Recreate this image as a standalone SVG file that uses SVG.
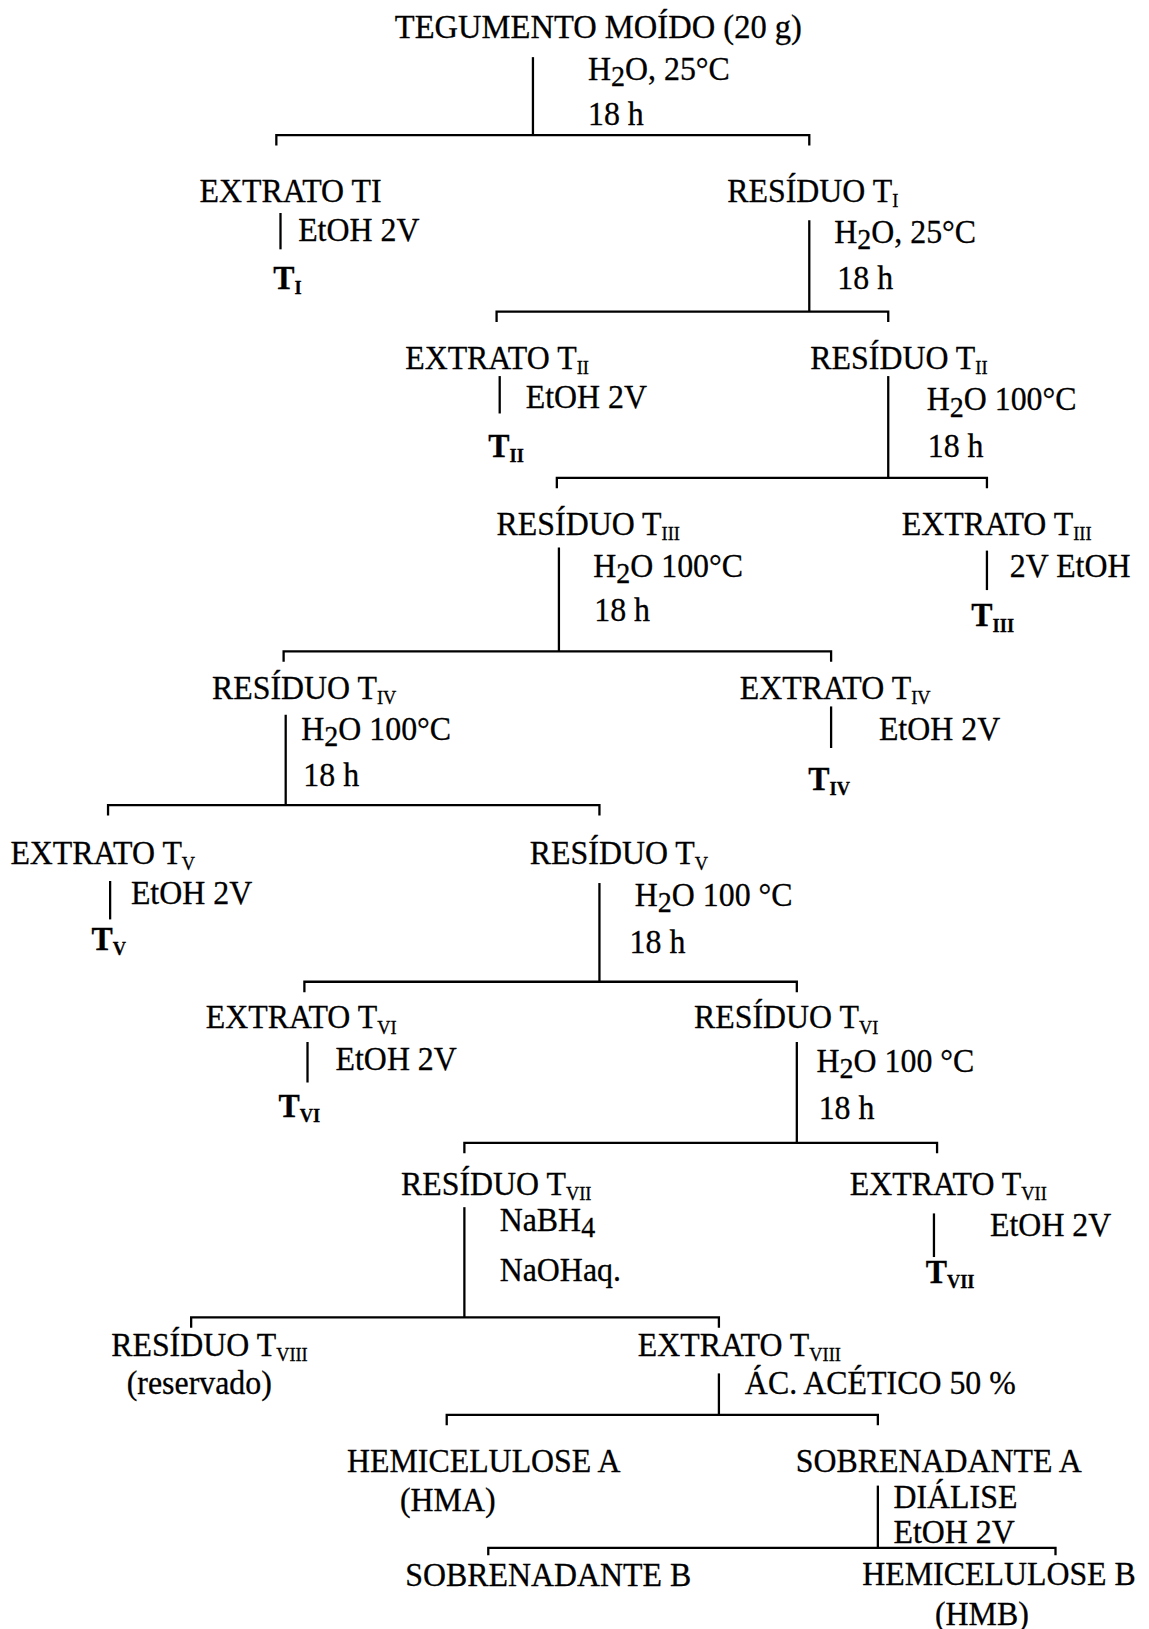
<svg xmlns="http://www.w3.org/2000/svg" width="1149" height="1629" viewBox="0 0 1149 1629">
<style>
text{font-family:"Liberation Serif","Times New Roman",serif;font-size:33px;fill:#000;stroke:#000;stroke-width:0.3;transform:scaleX(0.93);transform-box:fill-box;transform-origin:0 0}
.b{font-weight:bold}
.s{font-size:19px}
.h2{font-size:29px}
.title{transform:scaleX(0.95)}
.c line,.c path{stroke:#000;stroke-width:2.2;fill:none}
</style>
<rect width="1149" height="1629" fill="#fff"/>
<g transform="scale(1.03888)">
<g class="c" id="connectors">
<line x1="513" y1="55" x2="513" y2="130"/>
<path d="M266 140V130H779V140"/>
<line x1="270" y1="205" x2="270" y2="240"/>
<line x1="779" y1="212" x2="779" y2="300"/>
<path d="M478 310V300H855V310"/>
<line x1="481" y1="362" x2="481" y2="398"/>
<line x1="855" y1="362" x2="855" y2="460"/>
<path d="M536 470V460H950V470"/>
<line x1="538" y1="527" x2="538" y2="627"/>
<line x1="950" y1="530" x2="950" y2="568"/>
<path d="M273 637V627H800V637"/>
<line x1="275" y1="688" x2="275" y2="775"/>
<line x1="800" y1="680" x2="800" y2="720"/>
<path d="M104 785V775H577V785"/>
<line x1="106" y1="848" x2="106" y2="885"/>
<line x1="577" y1="850" x2="577" y2="945"/>
<path d="M293 955V945H767V955"/>
<line x1="296" y1="1003" x2="296" y2="1042"/>
<line x1="767" y1="1003" x2="767" y2="1100"/>
<path d="M447 1110V1100H902V1110"/>
<line x1="447" y1="1162" x2="447" y2="1268"/>
<line x1="899" y1="1168" x2="899" y2="1210"/>
<path d="M184 1278V1268H692V1278"/>
<line x1="692" y1="1322" x2="692" y2="1362"/>
<path d="M430 1372V1362H845V1372"/>
<line x1="845" y1="1430" x2="845" y2="1490"/>
<path d="M470 1497V1490H1016V1497"/>
</g>
<g id="n-tegumento">
<text class="title" x="380" y="37">TEGUMENTO MOÍDO (20 g)</text>
<text x="566" y="77">H<tspan class="h2" dy="6">2</tspan><tspan dy="-6">O, 25°C</tspan></text>
<text x="566" y="120">18 h</text>
</g>
<g id="n-extrato-t1">
<text x="192" y="194">EXTRATO TI</text>
<text x="287" y="232">EtOH 2V</text>
<text class="b" x="263" y="278">T<tspan class="s" dy="5">I</tspan></text>
</g>
<g id="n-residuo-t1">
<text x="700" y="194">RESÍDUO T<tspan class="s" dy="5">I</tspan></text>
<text x="803" y="234">H<tspan class="h2" dy="6">2</tspan><tspan dy="-6">O, 25°C</tspan></text>
<text x="806" y="278">18 h</text>
</g>
<g id="n-extrato-t2">
<text x="390" y="355">EXTRATO T<tspan class="s" dy="5">II</tspan></text>
<text x="506" y="393">EtOH 2V</text>
<text class="b" x="470" y="440">T<tspan class="s" dy="5">II</tspan></text>
</g>
<g id="n-residuo-t2">
<text x="780" y="355">RESÍDUO T<tspan class="s" dy="5">II</tspan></text>
<text x="892" y="395">H<tspan class="h2" dy="6">2</tspan><tspan dy="-6">O 100°C</tspan></text>
<text x="893" y="440">18 h</text>
</g>
<g id="n-residuo-t3">
<text x="478" y="515">RESÍDUO T<tspan class="s" dy="5">III</tspan></text>
<text x="571" y="555">H<tspan class="h2" dy="6">2</tspan><tspan dy="-6">O 100°C</tspan></text>
<text x="572" y="598">18 h</text>
</g>
<g id="n-extrato-t3">
<text x="868" y="515">EXTRATO T<tspan class="s" dy="5">III</tspan></text>
<text x="972" y="555">2V EtOH</text>
<text class="b" x="935" y="603">T<tspan class="s" dy="5">III</tspan></text>
</g>
<g id="n-residuo-t4">
<text x="204" y="673">RESÍDUO T<tspan class="s" dy="5">IV</tspan></text>
<text x="290" y="712">H<tspan class="h2" dy="6">2</tspan><tspan dy="-6">O 100°C</tspan></text>
<text x="292" y="757">18 h</text>
</g>
<g id="n-extrato-t4">
<text x="712" y="673">EXTRATO T<tspan class="s" dy="5">IV</tspan></text>
<text x="846" y="712">EtOH 2V</text>
<text class="b" x="778" y="760">T<tspan class="s" dy="5">IV</tspan></text>
</g>
<g id="n-extrato-t5">
<text x="10" y="832">EXTRATO T<tspan class="s" dy="5">V</tspan></text>
<text x="126" y="870">EtOH 2V</text>
<text class="b" x="88" y="914">T<tspan class="s" dy="5">V</tspan></text>
</g>
<g id="n-residuo-t5">
<text x="510" y="832">RESÍDUO T<tspan class="s" dy="5">V</tspan></text>
<text x="611" y="872">H<tspan class="h2" dy="6">2</tspan><tspan dy="-6">O 100 °C</tspan></text>
<text x="606" y="917">18 h</text>
</g>
<g id="n-extrato-t6">
<text x="198" y="990">EXTRATO T<tspan class="s" dy="5">VI</tspan></text>
<text x="323" y="1030">EtOH 2V</text>
<text class="b" x="268" y="1075">T<tspan class="s" dy="5">VI</tspan></text>
</g>
<g id="n-residuo-t6">
<text x="668" y="990">RESÍDUO T<tspan class="s" dy="5">VI</tspan></text>
<text x="786" y="1032">H<tspan class="h2" dy="6">2</tspan><tspan dy="-6">O 100 °C</tspan></text>
<text x="788" y="1077">18 h</text>
</g>
<g id="n-residuo-t7">
<text x="386" y="1150">RESÍDUO T<tspan class="s" dy="5">VII</tspan></text>
<text x="481" y="1185">NaBH<tspan class="h2" dy="6">4</tspan></text>
<text x="481" y="1233">NaOHaq.</text>
</g>
<g id="n-extrato-t7">
<text x="818" y="1150">EXTRATO T<tspan class="s" dy="5">VII</tspan></text>
<text x="953" y="1190">EtOH 2V</text>
<text class="b" x="891" y="1235">T<tspan class="s" dy="5">VII</tspan></text>
</g>
<g id="n-residuo-t8">
<text x="107" y="1305">RESÍDUO T<tspan class="s" dy="5">VIII</tspan></text>
<text x="122" y="1342">(reservado)</text>
</g>
<g id="n-extrato-t8">
<text x="614" y="1305">EXTRATO T<tspan class="s" dy="5">VIII</tspan></text>
<text x="717" y="1342">ÁC. ACÉTICO 50 %</text>
</g>
<g id="n-hma">
<text x="334" y="1417">HEMICELULOSE A</text>
<text x="385" y="1454">(HMA)</text>
</g>
<g id="n-sobrenadante-a">
<text x="766" y="1417">SOBRENADANTE A</text>
<text x="860" y="1452">DIÁLISE</text>
<text x="860" y="1485">EtOH 2V</text>
</g>
<g id="n-sobrenadante-b">
<text x="390" y="1527">SOBRENADANTE B</text>
</g>
<g id="n-hmb">
<text x="830" y="1526">HEMICELULOSE B</text>
<text x="900" y="1564">(HMB)</text>
</g>
</g>
</svg>
